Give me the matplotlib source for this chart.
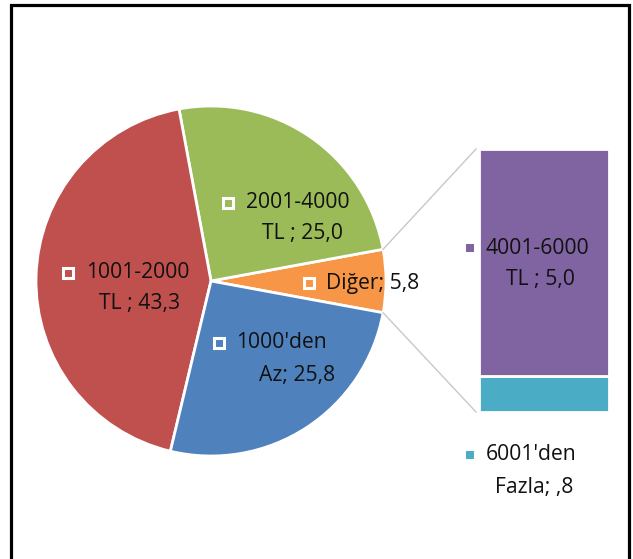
import numpy as np
import matplotlib
matplotlib.use("Agg")
import matplotlib.pyplot as plt
from matplotlib.patches import Rectangle

# main pie (Diğer = sum of the bar part)
pie_names = ["2001-4000 TL", "1001-2000 TL", "1000'den Az"]
pie_values = [25.0, 43.3, 25.8]
bar_names = ["4001-6000 TL", "6001'den Fazla"]
bar_values = [5.0, 0.8]
other_name = "Diğer"

pie_colors = ["#9BBB59", "#C0504D", "#4F81BD"]
other_color = "#F79646"
bar_colors = ["#8064A2", "#4BACC6"]

W, H = 633, 559
plt.rcParams['font.family'] = ['Open Sans', 'DejaVu Sans']


def fmt(v):
    s = "%.1f" % v
    if s.startswith("0"):
        s = s[1:]
    return s.replace(".", ",")


other_value = sum(bar_values)
values = [other_value] + pie_values
colors = [other_color] + pie_colors
total = sum(values)
half = other_value / total * 360 / 2

fig = plt.figure(figsize=(W / 100, H / 100), dpi=100)
ax = fig.add_axes([0, 0, 1, 1])
ax.set_zorder(2)

cx, cy, r = 211, H - 281, 175
ax.pie(values, colors=colors, startangle=-half, counterclock=True,
       center=(cx, cy), radius=r,
       wedgeprops=dict(edgecolor="white", linewidth=2))
ax.set_xlim(0, W)
ax.set_ylim(0, H)
ax.set_aspect("equal")
ax.axis("off")

# bar of the "other" slice
bx0, bx1, by0, by1 = 479, 609, 149, 412
bax = fig.add_axes([bx0 / W, (H - by1) / H, (bx1 - bx0) / W, (by1 - by0) / H])
bax.set_zorder(1)
bottom = 0
for v, c in zip(bar_values[::-1], bar_colors[::-1]):
    bax.bar(0, v, bottom=bottom, width=1, color=c, edgecolor="white", linewidth=2)
    bottom += v
bax.set_xlim(-0.5, 0.5)
bax.set_ylim(0, other_value)
bax.axis("off")

# connector lines
a = np.radians(half)
ax.plot([cx + r * np.cos(a), bx0 - 3], [cy + r * np.sin(a), H - by0], color="#C8C8C8", lw=1)
ax.plot([cx + r * np.cos(-a), bx0 - 3], [cy + r * np.sin(-a), H - by1], color="#C8C8C8", lw=1)

fs = 15.2


def label(mx, tx, y1, line1, line2, cx2, y2, mcolor, hollow):
    if hollow:
        ax.add_patch(Rectangle((mx - 5, H - y1 - 5), 10, 10, facecolor="none",
                               edgecolor="white", linewidth=2.2, zorder=5))
    else:
        ax.add_patch(Rectangle((mx - 4, H - y1 - 4), 8, 8, facecolor=mcolor,
                               edgecolor="none", zorder=5))
    ax.text(tx, H - y1, line1, ha="left", va="center", fontsize=fs, color="#111111", zorder=6)
    if line2:
        ax.text(cx2, H - y2, line2, ha="center", va="center", fontsize=fs, color="#111111", zorder=6)


# pie labels
n = pie_names
label(228, 246, 203, n[0].split()[0], n[0].split()[1] + " ; " + fmt(pie_values[0]), 302, 233, None, True)
label(68, 86, 273, n[1].split()[0], n[1].split()[1] + " ; " + fmt(pie_values[1]), 140, 303, None, True)
label(219, 236, 343, n[2].split()[0], n[2].split()[1] + "; " + fmt(pie_values[2]), 297, 375, None, True)
label(309, 326, 283, other_name + "; " + fmt(other_value), None, 0, 0, None, True)

# bar labels
label(469.5, 486, 248, bar_names[0].split()[0], bar_names[0].split()[1] + " ; " + fmt(bar_values[0]),
      541, 280, bar_colors[0], False)
label(469.5, 486, 455, bar_names[1].split()[0], bar_names[1].split()[1] + "; " + fmt(bar_values[1]),
      534, 487, bar_colors[1], False)

# outer frame (no bottom edge visible)
ax.plot([11, 11, 629, 629], [0, H - 5, H - 5, 0], color="black", lw=2.3,
        solid_joinstyle="miter", clip_on=False)

fig.savefig("out.png", dpi=100)
